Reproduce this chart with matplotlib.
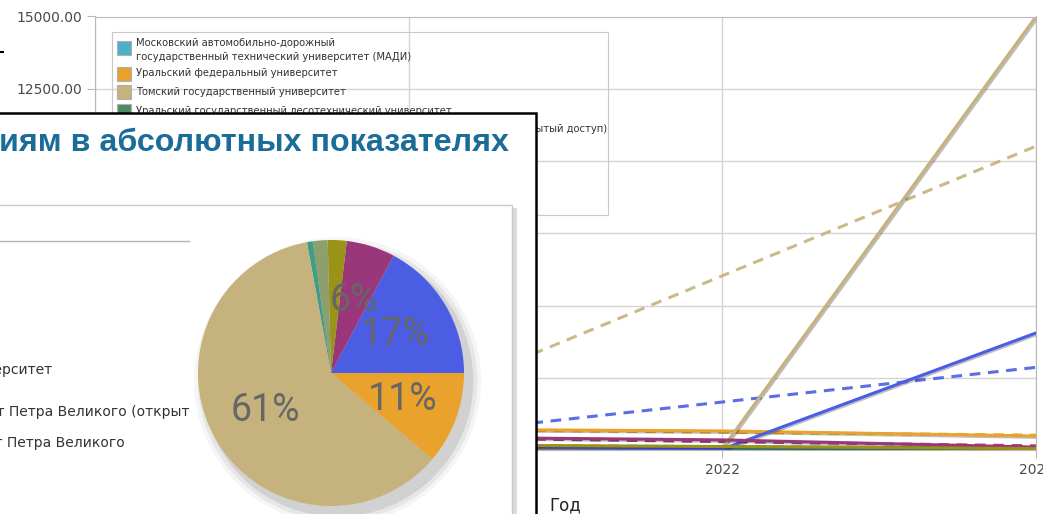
import numpy as np
import matplotlib.pyplot as plt
import matplotlib.patheffects as pe
from matplotlib.patches import Rectangle, Circle
from matplotlib.ticker import FormatStrFormatter

W, H = 1043, 514

# line chart data (values per year)
years = [2020, 2021, 2022, 2023]
madi = [60, 50, 40, 20]
urfu = [800, 720, 660, 485]
tsu = [60, 40, 50, 15000]
usfeu = [150, 130, 110, 60]
spbpu_open = [10, 150, 30, 4050]
spbpu = [550, 450, 350, 100]
other_univ = [220, 180, 120, 50]

series = [madi, urfu, tsu, usfeu, spbpu_open, spbpu, other_univ]
series_colors = ["#4bb0c8", "#e9a22c", "#c5b27c", "#4e8c66", "#4a5de3", "#9a377a", "#9b9318"]

legend_names = [
    "Московский автомобильно-дорожный\nгосударственный технический университет (МАДИ)",
    "Уральский федеральный университет",
    "Томский государственный университет",
    "Уральский государственный лесотехнический университет",
    "Санкт-Петербургский политехнический университет Петра Великого (открытый доступ)",
]

# pie chart data (shares, %), counter-clockwise from 3 o'clock
pie_shares = [17.2, 5.9, 2.3, 1.8, 0.7, 60.9, 11.2]
pie_colors = ["#4a5de3", "#9a377a", "#9b9318", "#8c9f6c", "#3e9e88", "#c5b27c", "#e9a22c"]

pie_legend_tail = [
    "Уральский государственный лесотехнический университет",
    "Санкт-Петербургский политехнический университет Петра Великого (открыт",
    "Санкт-Петербургский политехнический университет Петра Великого",
]

fig = plt.figure(figsize=(W / 100, H / 100), dpi=100)

# ---- background line chart ----
ax = fig.add_axes([95 / W, (H - 450) / H, (1036 - 95) / W, (450 - 16.5) / H])
shadow = [pe.SimpleLineShadow(offset=(1, -1), alpha=0.25), pe.Normal()]
x = np.array(years, dtype=float)
for vals, col in zip(series, series_colors):
    k, b = np.polyfit(x, vals, 1)
    ax.plot([years[0], years[-1]], [k * years[0] + b, k * years[-1] + b],
            color=col, lw=2.2, dashes=(3.5, 2.5), alpha=0.9)
for vals, col in zip(series, series_colors):
    ax.plot(years, vals, color=col, lw=2.2, path_effects=shadow)

ax.set_xlim(2020, 2023)
ax.set_ylim(0, 15000)
ax.set_xticks(years)
ax.set_yticks(np.arange(0, 15001, 2500))
ax.yaxis.set_major_formatter(FormatStrFormatter('%.2f'))
ax.grid(True, color="#d4d4d4", lw=1)
ax.set_axisbelow(True)
for s in ax.spines.values():
    s.set_color("#b8b8b8")
ax.tick_params(colors="#b8b8b8", labelcolor="#4a4a4a", labelsize=10, length=6, pad=3)
ax.set_xlabel("Год", fontsize=12, color="#222222", labelpad=14.5)

# ---- overlay drawn in pixel coordinates ----
px = fig.add_axes([0, 0, 1, 1], zorder=3)
px.set_xlim(0, W)
px.set_ylim(H, 0)
px.axis("off")
px.patch.set_alpha(0)

px.plot([0, 3], [52, 52], color="black", lw=1.5)

# legend of the line chart
px.add_patch(Rectangle((112, 32), 608 - 112, 215 - 32, fill=False, ec="#c8c8c8", lw=0.8, zorder=1))
row_y = [48, 73.5, 92, 110.5, 129]
for name, col, ry in zip(legend_names, series_colors, row_y):
    px.add_patch(Rectangle((117, ry - 7), 14, 14, fc=col, ec="#b0b0b0", lw=0.8, zorder=1))
    ty = ry + 2 if "\n" in name else ry
    px.text(136, ty, name, ha="left", va="center", fontsize=7.2, color="#333333",
            linespacing=1.4, zorder=1)

# front panel
px.add_patch(Rectangle((-5, 113), 541, 420, fc="white", ec="black", lw=1.8, zorder=5))
px.add_patch(Rectangle((-5, 208), 522, 400, fc="#dcdcdc", ec="none", zorder=6))
px.add_patch(Rectangle((-5, 205), 517, 400, fc="white", ec="#c8c8c8", lw=1, zorder=6))
px.plot([0, 189], [241, 241], color="#b4b4b4", lw=1, zorder=7)
px.text(509, 143, "иям в абсолютных показателях", ha="right", va="center",
        fontsize=23.2, fontweight="bold", family="Liberation Sans", color="#1b6d99", zorder=7)
for txt, xe, ye in zip(pie_legend_tail, [52, 189, 125], [370, 412, 443]):
    px.text(xe, ye, txt, ha="right", va="center", fontsize=10, color="#333333", zorder=7)

# pie
r_px, cx, cy = 133, 331, 373
pa = fig.add_axes([(cx - r_px) / W, (H - cy - r_px) / H, 2 * r_px / W, 2 * r_px / H], zorder=4)
for rr, a in [(1.08, 0.04), (1.05, 0.06), (1.02, 0.09)]:
    pa.add_patch(Circle((0.05, -0.06), rr, color="black", alpha=a, lw=0, clip_on=False, zorder=0))
pa.pie(pie_shares, colors=pie_colors, startangle=0, counterclock=True, radius=1,
       autopct=lambda p: f"{p:.0f}%" if p >= 5 else "", pctdistance=0.57,
       wedgeprops=dict(linewidth=0),
       textprops=dict(color="#666666", fontsize=27, family="Roboto"))
pa.set_xlim(-1, 1)
pa.set_ylim(-1, 1)
pa.axis("off")

fig.savefig("out.png", dpi=100)
